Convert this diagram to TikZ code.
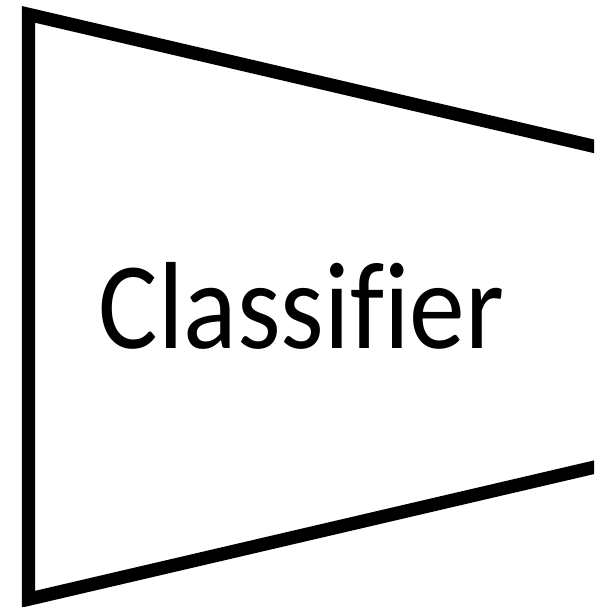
\documentclass[tikz,border=0pt]{standalone}
\usepackage{fontspec}
\setmainfont[Ligatures=NoCommon]{Carlito}
\begin{document}
\begin{tikzpicture}[x=1pt,y=1pt,
  shapeline/.style={draw=black,line width=13.3pt,line join=miter},
  label/.style={font=\fontsize{124}{130}\selectfont,inner sep=0pt,xscale=0.9}]
\useasboundingbox (0,0) rectangle (594,607);
\clip (0,0) rectangle (594,607);
\coordinate (tl) at (28.5,592.6);
\coordinate (bl) at (28.5,7.8);
\coordinate (tr) at (650,447.6);
\coordinate (br) at (650,152.8);
\draw[shapeline] (tr) -- (tl) -- (bl) -- (br);
\node[label,anchor=base] (txt) at (301.5,258) {Classif{}ier};
\end{tikzpicture}
\end{document}
